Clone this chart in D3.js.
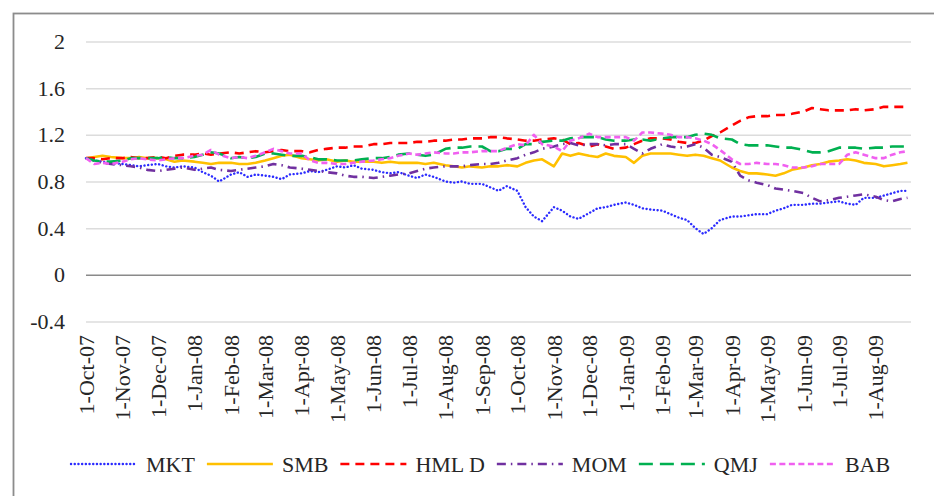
<!DOCTYPE html>
<html><head><meta charset="utf-8">
<script src="https://cdn.jsdelivr.net/npm/d3@7"></script>
<style>body{margin:0;background:#fff}svg{display:block}</style></head>
<body><svg id="c" width="934" height="496"></svg>
<script>
const dates = [
"2007-10-01","2007-10-08","2007-10-15","2007-10-22",
"2007-11-01","2007-11-08","2007-11-15","2007-11-22",
"2007-12-01","2007-12-08","2007-12-15","2007-12-22",
"2008-01-01","2008-01-08","2008-01-15","2008-01-22",
"2008-02-01","2008-02-08","2008-02-15","2008-02-22",
"2008-03-01","2008-03-08","2008-03-15","2008-03-22",
"2008-04-01","2008-04-08","2008-04-15","2008-04-22",
"2008-05-01","2008-05-08","2008-05-15","2008-05-22",
"2008-06-01","2008-06-08","2008-06-15","2008-06-22",
"2008-07-01","2008-07-08","2008-07-15","2008-07-22",
"2008-08-01","2008-08-08","2008-08-15","2008-08-22",
"2008-09-01","2008-09-08","2008-09-15","2008-09-22",
"2008-10-01","2008-10-08","2008-10-15","2008-10-22",
"2008-11-01","2008-11-08","2008-11-15","2008-11-22",
"2008-12-01","2008-12-08","2008-12-15","2008-12-22",
"2009-01-01","2009-01-08","2009-01-15","2009-01-22",
"2009-02-01","2009-02-08","2009-02-15","2009-02-22",
"2009-03-01","2009-03-08","2009-03-15","2009-03-22",
"2009-04-01","2009-04-08","2009-04-15","2009-04-22",
"2009-05-01","2009-05-08","2009-05-15","2009-05-22",
"2009-06-01","2009-06-08","2009-06-15","2009-06-22",
"2009-07-01","2009-07-08","2009-07-15","2009-07-22",
"2009-08-01","2009-08-08","2009-08-15","2009-08-22","2009-08-28"];

const MKT = [
1.00,0.98,0.97,0.96, 0.95,0.94,0.93,0.94, 0.95,0.93,0.92,0.93,
0.92,0.88,0.85,0.80, 0.86,0.88,0.84,0.86, 0.85,0.84,0.82,0.86,
0.87,0.89,0.88,0.90, 0.93,0.92,0.94,0.91, 0.90,0.88,0.87,0.88,
0.85,0.83,0.86,0.84, 0.80,0.79,0.80,0.78, 0.78,0.75,0.72,0.76,
0.72,0.58,0.50,0.46, 0.58,0.55,0.50,0.48, 0.53,0.57,0.58,0.60,
0.62,0.60,0.57,0.56, 0.55,0.52,0.49,0.47, 0.40,0.35,0.40,0.47,
0.50,0.50,0.51,0.52, 0.52,0.55,0.57,0.60, 0.60,0.61,0.61,0.62,
0.63,0.61,0.60,0.66, 0.66,0.68,0.70,0.72,0.72];
const SMB = [
1.00,1.01,1.02,1.01, 1.00,1.00,1.01,1.00, 1.00,0.99,0.97,0.98,
0.97,0.96,0.95,0.96, 0.96,0.95,0.95,0.96, 0.98,1.00,1.02,1.03,
1.00,0.99,0.98,0.99, 0.97,0.98,0.97,0.97, 0.97,0.96,0.97,0.96,
0.96,0.96,0.95,0.96, 0.94,0.93,0.92,0.93, 0.92,0.93,0.93,0.94,
0.93,0.96,0.98,0.99, 0.93,1.04,1.02,1.04, 1.02,1.01,1.04,1.02,
1.01,0.96,1.02,1.04, 1.04,1.04,1.03,1.02, 1.03,1.02,1.00,0.98,
0.92,0.89,0.87,0.87, 0.86,0.85,0.87,0.90, 0.92,0.94,0.95,0.97,
0.98,0.99,0.98,0.96, 0.95,0.93,0.94,0.95,0.96];
const HMLD = [
1.00,1.00,0.99,1.00, 1.00,1.01,1.00,1.00, 1.01,1.00,1.02,1.03,
1.03,1.04,1.03,1.04, 1.05,1.04,1.05,1.06, 1.05,1.06,1.07,1.06,
1.06,1.05,1.07,1.08, 1.09,1.09,1.10,1.10, 1.12,1.12,1.13,1.13,
1.13,1.14,1.14,1.15, 1.15,1.16,1.16,1.17, 1.17,1.18,1.18,1.17,
1.16,1.15,1.15,1.16, 1.17,1.16,1.12,1.13, 1.10,1.12,1.10,1.08,
1.09,1.12,1.15,1.17, 1.17,1.16,1.14,1.13, 1.13,1.15,1.19,1.22,
1.28,1.32,1.35,1.36, 1.36,1.37,1.37,1.38, 1.40,1.43,1.42,1.41,
1.41,1.41,1.42,1.41, 1.42,1.44,1.44,1.44,1.44];
const MOM = [
1.00,0.98,0.96,0.95, 0.94,0.93,0.92,0.90, 0.89,0.90,0.91,0.92,
0.90,0.91,0.92,0.90, 0.89,0.90,0.91,0.92, 0.93,0.95,0.94,0.92,
0.91,0.90,0.89,0.88, 0.87,0.85,0.84,0.84, 0.83,0.84,0.85,0.86,
0.87,0.89,0.91,0.92, 0.93,0.93,0.93,0.94, 0.95,0.95,0.96,0.98,
1.00,1.03,1.05,1.08, 1.10,1.12,1.13,1.11, 1.12,1.12,1.11,1.12,
1.12,1.08,1.04,1.08, 1.12,1.10,1.09,1.10, 1.12,1.09,1.03,1.01,
0.97,0.85,0.81,0.79, 0.77,0.74,0.73,0.72, 0.70,0.66,0.63,0.64,
0.66,0.67,0.68,0.69, 0.67,0.64,0.63,0.65,0.66];
const QMJ = [
1.00,0.98,0.97,0.97, 0.98,1.00,1.00,1.00, 1.00,1.01,1.00,1.00,
1.01,1.03,1.05,1.04, 1.00,1.01,1.00,1.01, 1.04,1.04,1.03,1.02,
1.02,1.01,0.99,0.99, 0.98,0.98,0.98,0.99, 1.00,1.00,1.01,1.03,
1.04,1.03,1.02,1.03, 1.08,1.09,1.09,1.10, 1.10,1.06,1.06,1.08,
1.08,1.12,1.12,1.14, 1.15,1.15,1.17,1.18, 1.18,1.18,1.16,1.15,
1.15,1.16,1.16,1.15, 1.17,1.18,1.18,1.18, 1.20,1.21,1.20,1.17,
1.16,1.12,1.11,1.11, 1.11,1.10,1.09,1.09, 1.07,1.05,1.05,1.06,
1.09,1.09,1.09,1.08, 1.09,1.09,1.10,1.10,1.10];
const BAB = [
1.00,0.95,0.96,0.95, 0.97,0.99,1.00,0.99, 0.98,0.99,1.00,1.00,
1.02,1.03,1.07,1.03, 1.00,1.01,1.00,1.02, 1.05,1.08,1.06,1.04,
1.04,0.98,0.96,0.96, 0.95,0.95,0.96,0.97, 0.98,0.99,1.00,1.02,
1.04,1.03,1.04,1.05, 1.04,1.04,1.05,1.05, 1.06,1.06,1.06,1.09,
1.12,1.11,1.20,1.12, 1.10,1.06,1.15,1.17, 1.21,1.18,1.18,1.18,
1.18,1.15,1.22,1.22, 1.21,1.20,1.18,1.18, 1.17,1.15,1.12,1.07,
0.99,0.95,0.95,0.96, 0.95,0.95,0.94,0.92, 0.92,0.93,0.95,0.95,
0.95,1.03,1.05,1.03, 1.00,1.00,1.03,1.05,1.06];

const seriesNames = ["MKT","SMB","HML D","MOM","QMJ","BAB"];
const seriesValues = [MKT, SMB, HMLD, MOM, QMJ, BAB];
const seriesColors = ["#2b2bff","#ffc000","#ff0000","#7030a0","#00b050","#f060f0"];
const seriesDash = ["0.1,3.6","","9,6","9,5,1.5,5","14,7","6,3.5"];
const seriesCap = ["round","butt","butt","butt","butt","butt"];

const yTicks = [-0.4, 0, 0.4, 0.8, 1.2, 1.6, 2];
const yTickLabels = ["-0.4","0","0.4","0.8","1.2","1.6","2"];
const xTickDates = ["2007-10-01","2007-11-01","2007-12-01","2008-01-01","2008-02-01","2008-03-01","2008-04-01","2008-05-01","2008-06-01","2008-07-01","2008-08-01","2008-09-01","2008-10-01","2008-11-01","2008-12-01","2009-01-01","2009-02-01","2009-03-01","2009-04-01","2009-05-01","2009-06-01","2009-07-01","2009-08-01"];
const xTickLabels = ["1-Oct-07","1-Nov-07","1-Dec-07","1-Jan-08","1-Feb-08","1-Mar-08","1-Apr-08","1-May-08","1-Jun-08","1-Jul-08","1-Aug-08","1-Sep-08","1-Oct-08","1-Nov-08","1-Dec-08","1-Jan-09","1-Feb-09","1-Mar-09","1-Apr-09","1-May-09","1-Jun-09","1-Jul-09","1-Aug-09"];

const parse = d3.utcParse("%Y-%m-%d");
const svg = d3.select("#c");
const FONT = "'Liberation Serif', 'Times New Roman', serif";
const TXT = "#262626";

const x = d3.scaleUtc().domain([parse("2007-10-01"), parse("2009-08-31")]).range([86, 911]);
const y = d3.scaleLinear().domain([-0.4, 2]).range([321.5, 41.5]);

// outer border
svg.append("rect").attr("x",13.5).attr("y",13.5).attr("width",1000).attr("height",1000)
  .attr("fill","none").attr("stroke","#8c8c8c").attr("stroke-width",1.8);

// y axis with gridlines
const yAxis = d3.axisLeft(y).tickValues(yTicks)
  .tickFormat((d,i)=>yTickLabels[i]).tickSize(-(911-86)).tickPadding(21);
const gy = svg.append("g").attr("transform","translate(86,0)").call(yAxis);
gy.select(".domain").remove();
gy.selectAll(".tick line").attr("stroke", d => d===0 ? "#8a8a8a" : "#dcdcdc").attr("stroke-width",1.5);
gy.selectAll(".tick text").attr("font-family",FONT).attr("font-size",22).attr("fill",TXT);

// x axis labels
const xAxis = d3.axisBottom(x).tickValues(xTickDates.map(parse))
  .tickFormat((d,i)=>xTickLabels[i]).tickSize(0);
const gx = svg.append("g").attr("transform","translate(0,335)").call(xAxis);
gx.select(".domain").remove();
gx.selectAll(".tick text")
  .attr("font-family",FONT).attr("font-size",22).attr("fill",TXT)
  .attr("text-anchor","end").attr("y",0).attr("x",0).attr("dy","0.33em")
  .attr("transform","rotate(-90)");

// lines
const line = d3.line().x(d=>x(d[0])).y(d=>y(d[1]));
seriesValues.forEach((vals, k) => {
  const pts = dates.map((d,i)=>[parse(d), vals[i]]);
  svg.append("path").datum(pts).attr("d", line)
    .attr("fill","none").attr("stroke",seriesColors[k])
    .attr("stroke-width", k===0 ? 2.4 : 2.6)
    .attr("stroke-dasharray", seriesDash[k] || null)
    .attr("stroke-linecap", seriesCap[k])
    .attr("stroke-linejoin","round");
});

// legend
let lx = 71;
const ly = 464;
seriesNames.forEach((name,k)=>{
  svg.append("line").attr("x1",lx).attr("x2",lx+66).attr("y1",ly).attr("y2",ly)
    .attr("stroke",seriesColors[k]).attr("stroke-width", k===0 ? 2.4 : 2.6)
    .attr("stroke-dasharray", seriesDash[k] || null)
    .attr("stroke-linecap", seriesCap[k]);
  const t = svg.append("text").attr("x",lx+75).attr("y",ly).attr("dy","0.35em")
    .attr("font-family",FONT).attr("font-size",22).attr("fill",TXT).text(name);
  lx += 75 + t.node().getComputedTextLength() + 12;
});
</script>
</body></html>
